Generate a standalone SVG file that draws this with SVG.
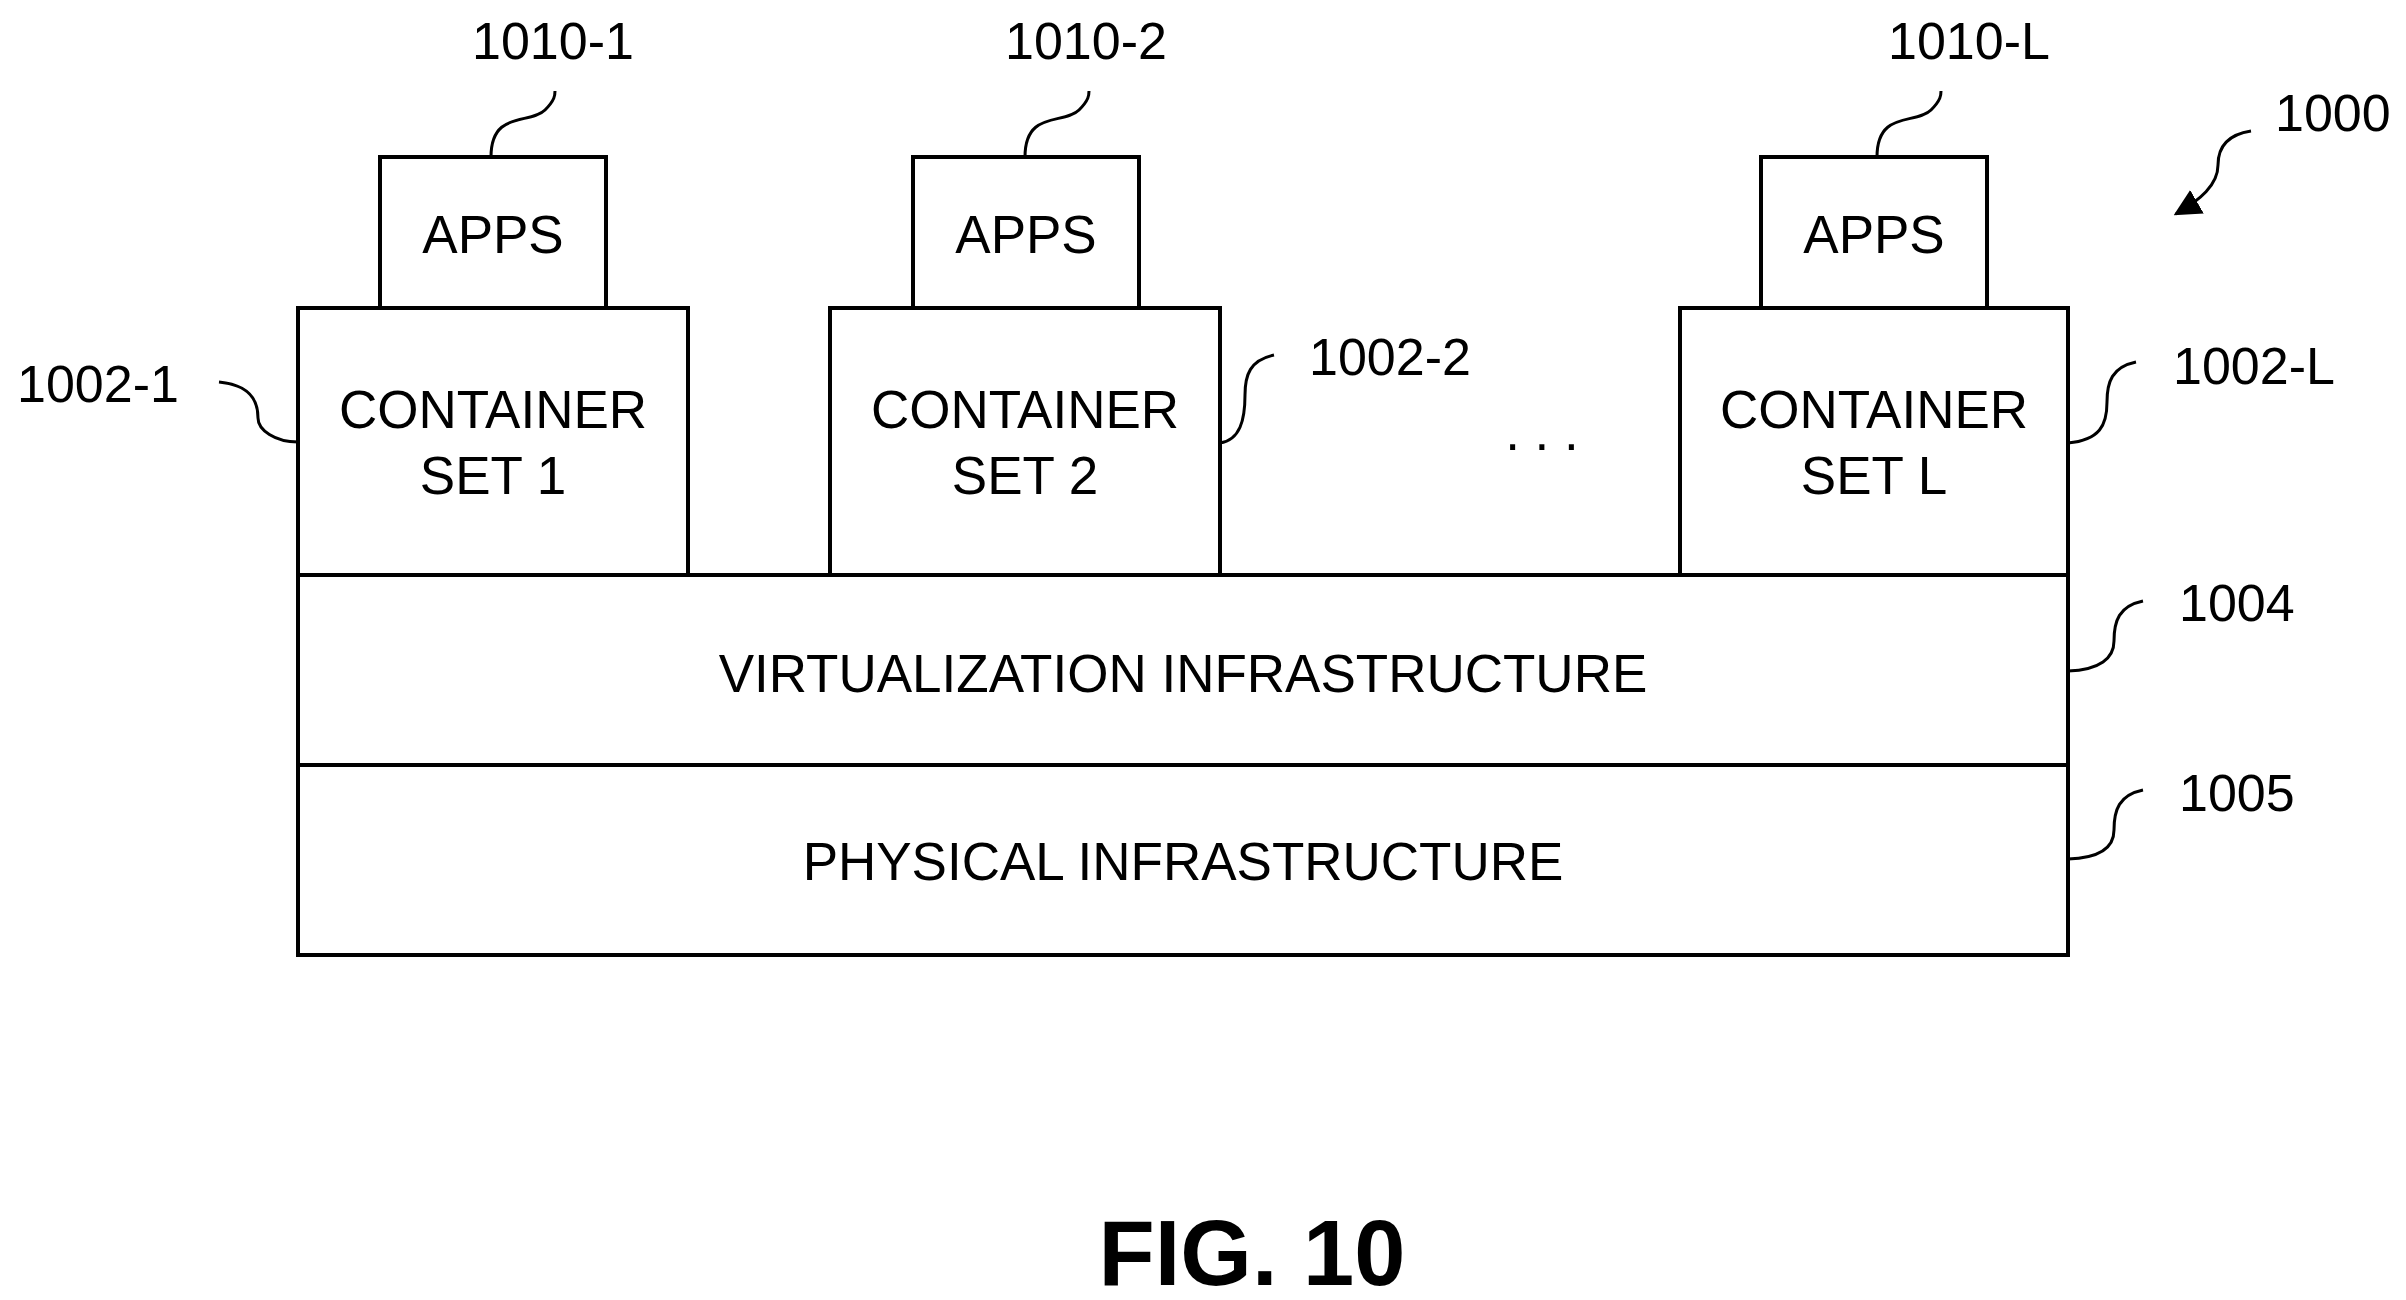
<svg xmlns="http://www.w3.org/2000/svg" width="2406" height="1300" viewBox="0 0 2406 1300">
<style>
.b{fill:#fff;stroke:#000;stroke-width:4}
.t{font-family:"Liberation Sans",Arial,sans-serif;font-size:53px;text-anchor:middle;fill:#000}
.l{font-family:"Liberation Sans",Arial,sans-serif;font-size:52px;fill:#000}
.c{fill:none;stroke:#000;stroke-width:3}
</style>
<defs><marker id="ah" viewBox="0 0 10 10" refX="9" refY="5" markerWidth="9" markerHeight="9" orient="auto"><path d="M0,0L10,5L0,10z" fill="#000"/></marker></defs>
<rect width="2406" height="1300" fill="#fff"/>
<g id="apps1"><rect class="b" x="380" y="157" width="226" height="151"/><text class="t" x="493" y="253">APPS</text></g>
<g id="apps2"><rect class="b" x="913" y="157" width="226" height="151"/><text class="t" x="1026" y="253">APPS</text></g>
<g id="appsL"><rect class="b" x="1761" y="157" width="226" height="151"/><text class="t" x="1874" y="253">APPS</text></g>
<g id="cs1"><rect class="b" x="298" y="308" width="390" height="267"/><text class="t" x="493" y="428">CONTAINER</text><text class="t" x="493" y="494">SET 1</text></g>
<g id="cs2"><rect class="b" x="830" y="308" width="390" height="267"/><text class="t" x="1025" y="428">CONTAINER</text><text class="t" x="1025" y="494">SET 2</text></g>
<g id="csL"><rect class="b" x="1680" y="308" width="388" height="267"/><text class="t" x="1874" y="428">CONTAINER</text><text class="t" x="1874" y="494">SET L</text></g>
<g id="virt"><rect class="b" x="298" y="575" width="1770" height="190"/><text class="t" x="1183" y="692">VIRTUALIZATION INFRASTRUCTURE</text></g>
<g id="phys"><rect class="b" x="298" y="765" width="1770" height="190"/><text class="t" x="1183" y="880">PHYSICAL INFRASTRUCTURE</text></g>
<g id="dots"><text class="t" x="1542" y="450">. . .</text></g>
<g id="connectors">
<path class="c" d="M491,157 C491,110 530,125 545,110 C555,100 555,95 555,91"/>
<path class="c" d="M1025,157 C1025,110 1064,125 1079,110 C1089,100 1089,95 1089,91"/>
<path class="c" d="M1877,157 C1877,110 1916,125 1931,110 C1941,100 1941,95 1941,91"/>
<path class="c" d="M219,382 C250,385 258,400 258,418 C258,430 275,442 298,442"/>
<path class="c" d="M1274,355 C1250,360 1245,375 1245,395 C1245,420 1240,440 1220,443"/>
<path class="c" d="M2136,362 C2112,367 2107,382 2107,402 C2107,425 2100,440 2068,443"/>
<path class="c" d="M2143,601 C2119,606 2114,621 2114,641 C2114,658 2100,670 2068,671"/>
<path class="c" d="M2143,790 C2119,795 2114,810 2114,830 C2114,847 2100,858 2068,859"/>
<path class="c" d="M2251,131 C2225,135 2218,150 2218,165 C2218,185 2200,200 2176,214" marker-end="url(#ah)"/>
</g>
<g id="labels">
<text class="l" x="472" y="59">1010-1</text>
<text class="l" x="1005" y="59">1010-2</text>
<text class="l" x="1888" y="59">1010-L</text>
<text class="l" x="2275" y="131">1000</text>
<text class="l" x="17" y="402">1002-1</text>
<text class="l" x="1309" y="375">1002-2</text>
<text class="l" x="2173" y="384">1002-L</text>
<text class="l" x="2179" y="621">1004</text>
<text class="l" x="2179" y="811">1005</text>
<text x="1252" y="1285" style="font-family:'Liberation Sans',Arial,sans-serif;font-size:92px;font-weight:bold;text-anchor:middle">FIG. 10</text>
</g>
</svg>
